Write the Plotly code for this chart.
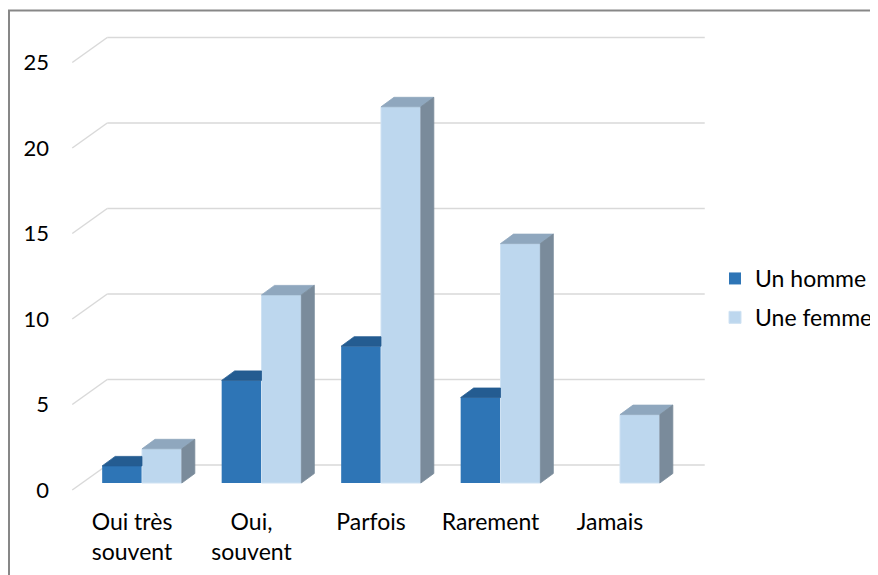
import plotly.graph_objects as go

# ---- data ----
categories = ["Oui très<br>souvent", "Oui,<br>souvent", "Parfois", "Rarement", "Jamais"]
series_names = ["Un homme", "Une femme"]
homme = [1, 6, 8, 5, 0]
femme = [2, 11, 22, 14, 4]
y_ticks = [0, 5, 10, 15, 20, 25]

# ---- layout constants (pixels, figure coordinates; page body adds an 8px margin) ----
W, H = 870, 567
CAT_PX = 119.5      # pixels per category
CAT0_X = 134        # pixel x of first category centre (bar plane)
UNIT_PX = 17.1      # pixels per value unit
ZERO_Y = 475        # pixel y of value 0 on the bar plane
FRONT_DX, FRONT_DY = -10, 7     # front plane offset (px)
BACK_DX, BACK_DY = 25, -18      # back wall offset (px)
DEPTH_X, DEPTH_Y = 13, -9.5     # bar depth offset (px)

def ux(px):
    return px / CAT_PX

def uy(px):
    return -px / UNIT_PX  # pixel down => value down

xr = [(0 - CAT0_X) / CAT_PX, (W - CAT0_X) / CAT_PX]
yr = [-(H - ZERO_Y) / UNIT_PX, ZERO_Y / UNIT_PX]

C_DARK, C_DARK_TOP = "#2E75B6", "#245C91"
C_LIGHT, C_LIGHT_TOP, C_LIGHT_SIDE = "#BDD7EE", "#8FA7BE", "#7A8B9B"
GRID = "#D9D9D9"
FONT = "Lato"

n = len(categories)
idx = list(range(n))
bw = 1 / 3
ddx, ddy = ux(DEPTH_X), uy(DEPTH_Y)

fig = go.Figure()

# front faces (real bars)
fig.add_trace(go.Bar(x=idx, y=homme, name=series_names[0], legendgroup="a",
                     marker=dict(color=C_DARK, line=dict(width=0)),
                     offsetgroup="a", hoverinfo="skip"))
fig.add_trace(go.Bar(x=idx, y=femme, name=series_names[1], legendgroup="b",
                     marker=dict(color=C_LIGHT, line=dict(width=1, color="#CFE2F3")),
                     offsetgroup="b", hoverinfo="skip"))

# 3D faces derived from the data
def poly_trace(xs, ys, color):
    return go.Scatter(x=xs, y=ys, mode="lines", fill="toself", fillcolor=color,
                      line=dict(width=0.8, color=color), showlegend=False, hoverinfo="skip")

dtx, dty = [], []
for i in idx:
    v = homme[i]
    if v <= 0:
        continue
    x0, x1 = i - bw, i
    if femme[i] >= v + ddy:
        dtx += [x0, x1, x1, x0 + ddx, x0, None]
    else:
        dtx += [x0, x1, x1 + ddx, x0 + ddx, x0, None]
    dty += [v, v, v + ddy, v + ddy, v, None]
fig.add_trace(poly_trace(dtx, dty, C_DARK_TOP))

ltx, lty, lsx, lsy = [], [], [], []
for i in idx:
    v = femme[i]
    if v <= 0:
        continue
    x0, x1 = i, i + bw
    ltx += [x0, x1, x1 + ddx, x0 + ddx, x0, None]
    lty += [v, v, v + ddy, v + ddy, v, None]
    lsx += [x1, x1, x1 + ddx, x1 + ddx, x1, None]
    lsy += [0, v, v + ddy, ddy, 0, None]
fig.add_trace(poly_trace(ltx, lty, C_LIGHT_TOP))
fig.add_trace(poly_trace(lsx, lsy, C_LIGHT_SIDE))

# back wall grid and left wall diagonals
left = -0.5
right = n - 0.5
shapes = []
for v in y_ticks:
    yb = v + uy(BACK_DY)
    shapes.append(dict(type="line", xref="x", yref="y", layer="below",
                       x0=left + ux(BACK_DX), x1=right + ux(BACK_DX), y0=yb, y1=yb,
                       line=dict(color=GRID, width=1.5)))
    shapes.append(dict(type="line", xref="x", yref="y", layer="below",
                       x0=left + ux(FRONT_DX), y0=v + uy(FRONT_DY),
                       x1=left + ux(BACK_DX), y1=yb,
                       line=dict(color=GRID, width=1.5)))
# outer chart border
shapes.append(dict(type="rect", xref="paper", yref="paper",
                   x0=1 / W, x1=(W - 1) / W, y0=-0.05, y1=(H - 2.5) / H,
                   line=dict(color="#878787", width=2), fillcolor="rgba(0,0,0,0)"))

fig.update_layout(
    width=W, height=H,
    margin=dict(l=0, r=0, t=0, b=0, autoexpand=False),
    paper_bgcolor="white", plot_bgcolor="white",
    barmode="group", bargap=1 / 3, bargroupgap=0,
    shapes=shapes,
    font=dict(family=FONT, size=23, color="#000000"),
    legend=dict(x=707 / W, y=(H - 249) / H, xanchor="left", yanchor="top",
                font=dict(family=FONT, size=23, color="#000000"),
                bgcolor="rgba(0,0,0,0)", traceorder="grouped", tracegroupgap=6),
    xaxis=dict(range=xr, tickmode="array", tickvals=idx, ticktext=categories,
               anchor="free", position=(H - 498) / H, showline=False, showgrid=False,
               zeroline=False, ticks="", ticklabelshift=FRONT_DX,
               tickfont=dict(family=FONT, size=23, color="#000000")),
    yaxis=dict(range=yr, tickmode="array", tickvals=y_ticks,
               anchor="free", position=41 / W, showline=False, showgrid=False,
               zeroline=False, ticks="", ticklabelshift=FRONT_DY,
               tickfont=dict(family=FONT, size=22, color="#000000")),
)

fig.write_html("out.html")
